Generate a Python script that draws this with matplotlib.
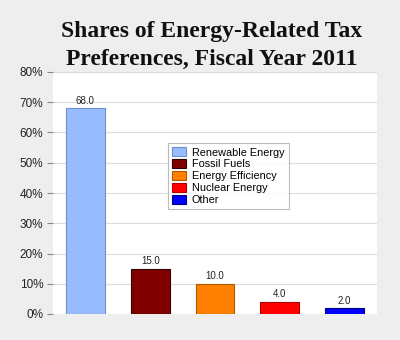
import matplotlib.pyplot as plt

categories = ["Renewable Energy", "Fossil Fuels", "Energy Efficiency",
              "Nuclear Energy", "Other"]
shares = [68.0, 15.0, 10.0, 4.0, 2.0]
colors = ["#99bbff", "#800000", "#ff8000", "#ff0000", "#0000ff"]
edges = ["#6f8fcc", "#300000", "#b05a00", "#b00000", "#000080"]
yticks = [0, 10, 20, 30, 40, 50, 60, 70, 80]

fig = plt.figure(figsize=(4, 3.4), dpi=100, facecolor="#eeeeee")
ax = fig.add_axes([53 / 400, 1 - 314 / 340, 324 / 400, 242 / 340])
ax.set_facecolor("white")

for i, (name, val) in enumerate(zip(categories, shares)):
    ax.bar(i, val, width=0.6, color=colors[i], edgecolor=edges[i],
           linewidth=0.8, label=name, zorder=3)
    ax.text(i, val + 0.8, f"{val:.1f}", ha="center", va="bottom",
            fontsize=7, family="Liberation Sans", color="#222222")

ax.set_xlim(-0.5, 4.5)
ax.set_ylim(0, 80)
ax.set_yticks(yticks)
ax.set_yticklabels([f"{t}%" for t in yticks], family="Liberation Sans",
                   fontsize=8.5, color="#222222")
ax.set_xticks([])
ax.grid(axis="y", color="#dddddd", linewidth=0.8, zorder=0)
ax.tick_params(axis="y", length=4, width=0.8, color="#888888", pad=3)
for s in ax.spines.values():
    s.set_visible(False)

leg = ax.legend(loc="upper left", bbox_to_anchor=((168 - 53) / 324, (314 - 143) / 242),
                prop={"family": "Liberation Sans", "size": 7.8},
                frameon=True, fancybox=False, edgecolor="#aaaaaa",
                handlelength=1.3, handleheight=0.9, handletextpad=0.5,
                labelspacing=0.15, borderpad=0.4, borderaxespad=0)
leg.get_frame().set_linewidth(0.8)

# two-line serif title
fig.text(212 / 400, 1 - 37 / 340, "Shares of Energy-Related Tax",
         ha="center", va="baseline", family="Liberation Serif",
         fontweight="bold", fontsize=17, color="#111111")
fig.text(212 / 400, 1 - 65 / 340, "Preferences, Fiscal Year 2011",
         ha="center", va="baseline", family="Liberation Serif",
         fontweight="bold", fontsize=17, color="#111111")

fig.savefig("out.png", dpi=100, facecolor=fig.get_facecolor())
